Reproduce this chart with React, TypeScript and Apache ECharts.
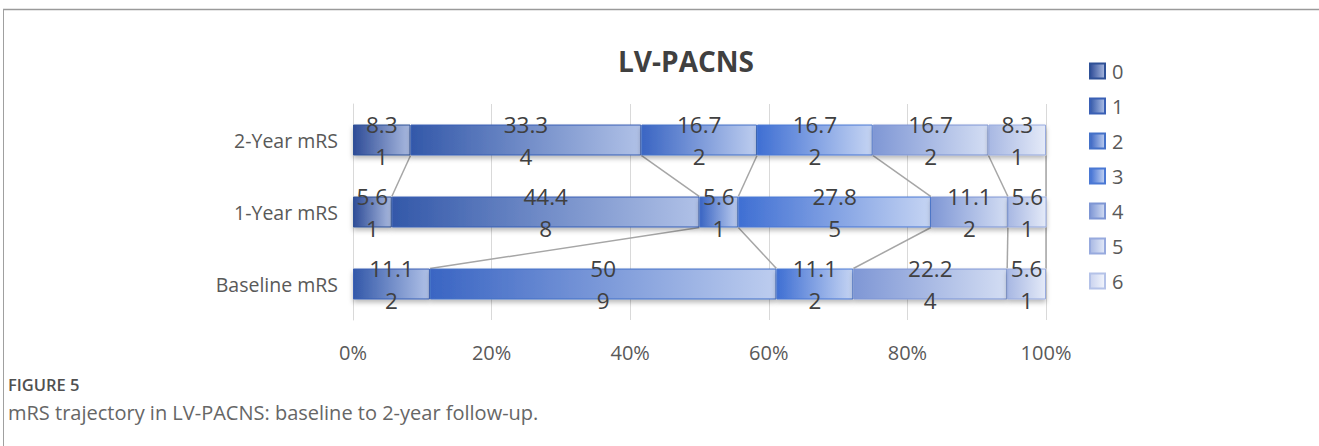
import React, { useEffect, useRef } from "react";
import * as echarts from "echarts";

// Rows of the chart (bottom to top on the category axis)
const categories = ["Baseline mRS", "1-Year mRS", "2-Year mRS"];

// mRS grades shown as stacked segments
const grades = ["0", "1", "2", "3", "4", "5", "6"];

// Percentage of patients per grade, one array per grade: [Baseline, 1-Year, 2-Year]
const pct0 = [0, 5.6, 8.3];
const pct1 = [11.1, 44.4, 33.3];
const pct2 = [50, 5.6, 16.7];
const pct3 = [11.1, 27.8, 16.7];
const pct4 = [22.2, 11.1, 16.7];
const pct5 = [5.6, 5.6, 8.3];
const pct6 = [0, 0, 0];

// Patient counts per grade: [Baseline, 1-Year, 2-Year]
const cnt0 = [0, 1, 1];
const cnt1 = [2, 8, 4];
const cnt2 = [9, 1, 2];
const cnt3 = [2, 5, 2];
const cnt4 = [4, 2, 2];
const cnt5 = [1, 1, 1];
const cnt6 = [0, 0, 0];

const xTicks = [0, 20, 40, 60, 80, 100];

const percents = [pct0, pct1, pct2, pct3, pct4, pct5, pct6];
const counts = [cnt0, cnt1, cnt2, cnt3, cnt4, cnt5, cnt6];

// Gradient stops (left, right) and outline colour for each grade
const shades: [string, string, string][] = [
  ["#2E4C97", "#A9B9DF", "#2F5197"],
  ["#3358A9", "#B0C1E7", "#3A60B5"],
  ["#3A65C3", "#BDCDEF", "#4471C8"],
  ["#3F6FD3", "#C5D4F3", "#4A78D4"],
  ["#7F97D5", "#D3DDF3", "#7E96D4"],
  ["#A8B8E3", "#E4EAF8", "#97AADE"],
  ["#CAD3EF", "#F2F5FC", "#B4C2E8"],
];

const BAR_RATIO = 0.43;
const FONT = "'Open Sans', 'Noto Sans', sans-serif";

function gradient(k: number) {
  return new echarts.graphic.LinearGradient(0, 0, 1, 0, [
    { offset: 0, color: shades[k][0] },
    { offset: 1, color: shades[k][1] },
  ]);
}

function cumulative(k: number, row: number) {
  let s = 0;
  for (let j = 0; j <= k; j++) s += percents[j][row];
  return s;
}

// Connector lines between the ends of the same grade on neighbouring rows
const links: [number, number][] = [];
for (let row = 0; row < categories.length - 1; row++) {
  for (let k = 0; k < grades.length; k++) {
    if (percents[k][row] > 0 && percents[k][row + 1] > 0) links.push([k, row]);
  }
}

export default function App() {
  const ref = useRef<HTMLDivElement>(null);

  useEffect(() => {
    if (!ref.current) return;
    const chart = echarts.init(ref.current, undefined, { renderer: "svg" });

    const barSeries = grades.map((g, k) => ({
      name: g,
      type: "bar",
      stack: "total",
      barWidth: `${BAR_RATIO * 100}%`,
      data: percents[k].map((v) => (v > 0 ? v : null)),
      itemStyle: {
        color: gradient(k),
        borderColor: shades[k][2],
        borderWidth: 1,
        shadowColor: "rgba(0,0,0,0.28)",
        shadowBlur: 5,
        shadowOffsetY: 3,
      },
      label: {
        show: true,
        position: "inside",
        fontFamily: FONT,
        fontSize: 22.5,
        lineHeight: 32,
        color: "#404040",
        formatter: (p: any) =>
          p.value ? `${p.value}\n${counts[k][p.dataIndex]}` : "",
      },
      emphasis: { disabled: true },
      z: 3,
    }));

    const linkSeries = {
      type: "custom",
      silent: true,
      z: 2,
      data: links.map(([, row]) => [0, row]),
      renderItem: (params: any, api: any) => {
        const [k, row] = links[params.dataIndex];
        const band = api.size([0, 1])[1];
        const half = (band * BAR_RATIO) / 2;
        const lower = api.coord([Math.min(cumulative(k, row), 100), row]);
        const upper = api.coord([Math.min(cumulative(k, row + 1), 100), row + 1]);
        return {
          type: "line",
          shape: {
            x1: upper[0],
            y1: upper[1] + half,
            x2: lower[0],
            y2: lower[1] - half,
          },
          style: { stroke: "#A6A6A6", lineWidth: 1.5 },
        };
      },
    };

    chart.setOption({
      animation: false,
      backgroundColor: "#ffffff",
      title: {
        text: "LV-PACNS",
        left: 681,
        top: 42,
        textAlign: "center",
        textStyle: {
          fontFamily: FONT,
          fontSize: 28,
          fontWeight: "bold",
          color: "#404040",
        },
      },
      legend: {
        data: grades,
        orient: "vertical",
        left: 1084,
        top: 56,
        icon: "rect",
        itemWidth: 15,
        itemHeight: 15,
        itemGap: 15,
        textStyle: {
          fontFamily: FONT,
          fontSize: 20,
          lineHeight: 15,
          color: "#595959",
          padding: [0, 0, 0, 2],
        },
        selectedMode: false,
      },
      grid: { left: 353, right: 273, top: 104, bottom: 126 },
      xAxis: {
        type: "value",
        min: 0,
        max: 100,
        interval: 20,
        axisLine: { show: false },
        axisTick: { show: false },
        splitLine: { lineStyle: { color: "#D9D9D9", width: 1 } },
        axisLabel: {
          margin: 22,
          fontFamily: FONT,
          fontSize: 20,
          color: "#595959",
          formatter: (v: number) => (xTicks.includes(v) ? `${v}%` : ""),
        },
      },
      yAxis: {
        type: "category",
        data: categories,
        axisLine: { show: true, lineStyle: { color: "#D9D9D9" } },
        axisTick: { show: false },
        axisLabel: {
          margin: 15,
          fontFamily: FONT,
          fontSize: 19.5,
          color: "#595959",
        },
      },
      graphic: [
        {
          type: "line",
          shape: { x1: 3, y1: 9.5, x2: 1319, y2: 9.5 },
          style: { stroke: "#9A9A9A", lineWidth: 1.5 },
        },
        {
          type: "line",
          shape: { x1: 3.5, y1: 9, x2: 3.5, y2: 446 },
          style: { stroke: "#A0A0A0", lineWidth: 1 },
        },
        {
          type: "text",
          x: 8,
          y: 384,
          style: {
            text: "FIGURE 5",
            fontFamily: FONT,
            fontSize: 16.5,
            fontWeight: 600,
            fill: "#505050",
            verticalAlign: "middle",
          },
        },
        {
          type: "text",
          x: 8,
          y: 412,
          style: {
            text: "mRS trajectory in LV-PACNS: baseline to 2-year follow-up.",
            fontFamily: FONT,
            fontSize: 20,
            fill: "#666666",
            verticalAlign: "middle",
          },
        },
      ],
      series: [...barSeries, linkSeries],
    });

    return () => chart.dispose();
  }, []);

  return (
    <div
      ref={ref}
      style={{ position: "absolute", left: 0, top: 0, width: 1319, height: 446 }}
    />
  );
}
